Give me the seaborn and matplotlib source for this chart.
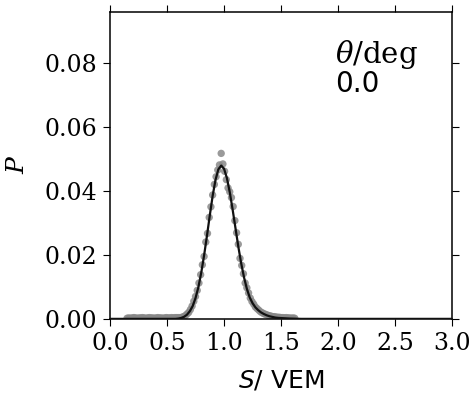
import seaborn as sns
import matplotlib.pyplot as plt
import pandas as pd

# Measured distribution (dots)
s_points = [0.150, 0.165, 0.180, 0.195, 0.210, 0.225, 0.240, 0.255, 0.270, 0.285,
            0.300, 0.315, 0.330, 0.345, 0.360, 0.375, 0.390, 0.405, 0.420, 0.435,
            0.450, 0.465, 0.480, 0.495, 0.510, 0.525, 0.540, 0.555, 0.570, 0.585,
            0.600, 0.615, 0.630, 0.645, 0.660, 0.675, 0.690, 0.705, 0.720, 0.735,
            0.750, 0.765, 0.780, 0.795, 0.810, 0.825, 0.840, 0.855, 0.870, 0.885,
            0.900, 0.915, 0.930, 0.945, 0.960, 0.975, 0.990, 1.005, 1.020, 1.035,
            1.050, 1.065, 1.080, 1.095, 1.110, 1.125, 1.140, 1.155, 1.170, 1.185,
            1.200, 1.215, 1.230, 1.245, 1.260, 1.275, 1.290, 1.305, 1.320, 1.335,
            1.350, 1.365, 1.380, 1.395, 1.410, 1.425, 1.440, 1.455, 1.470, 1.485,
            1.500, 1.515, 1.530, 1.545, 1.560, 1.575, 1.590, 1.605, 1.620]
p_points = [0.0003, 0.0004, 0.0003, 0.0004, 0.0005, 0.0004, 0.0003, 0.0004, 0.0004, 0.0005,
            0.0004, 0.0003, 0.0004, 0.0005, 0.0004, 0.0004, 0.0003, 0.0004, 0.0005, 0.0004,
            0.0004, 0.0003, 0.0004, 0.0005, 0.0004, 0.0004, 0.0005, 0.0004, 0.0005, 0.0005,
            0.0005, 0.0005, 0.0006, 0.0008, 0.0011, 0.0016, 0.0021, 0.0030, 0.0041, 0.0056,
            0.0071, 0.0090, 0.0113, 0.0139, 0.0170, 0.0196, 0.0241, 0.0268, 0.0318, 0.0351,
            0.0388, 0.0421, 0.0445, 0.0466, 0.0482, 0.0518, 0.0485, 0.0462, 0.0436, 0.0410,
            0.0398, 0.0380, 0.0352, 0.0308, 0.0270, 0.0234, 0.0190, 0.0168, 0.0142, 0.0113,
            0.0098, 0.0082, 0.0066, 0.0055, 0.0047, 0.0038, 0.0033, 0.0028, 0.0023, 0.0020,
            0.0017, 0.0015, 0.0013, 0.0011, 0.0010, 0.0008, 0.0008, 0.0007, 0.0006, 0.0006,
            0.0005, 0.0005, 0.0004, 0.0005, 0.0004, 0.0004, 0.0003, 0.0004, 0.0003]

# Fitted curve (black line)
s_fit = [0.0, 0.3, 0.5, 0.575, 0.6, 0.625, 0.65, 0.675, 0.7, 0.725, 0.75, 0.775, 0.8,
         0.825, 0.85, 0.875, 0.9, 0.925, 0.95, 0.975, 1.0, 1.025, 1.05, 1.075, 1.1,
         1.125, 1.15, 1.175, 1.2, 1.225, 1.25, 1.275, 1.3, 1.325, 1.35, 1.375, 1.4,
         1.425, 1.45, 1.475, 1.525, 1.575, 1.675, 2.0, 3.0]
p_fit = [0.0001, 0.0001, 0.0001, 0.0001, 0.0002, 0.0004, 0.00076, 0.0014, 0.0025, 0.0041,
         0.0066, 0.0100, 0.0145, 0.0199, 0.0260, 0.0324, 0.0385, 0.0435, 0.0468, 0.0480,
         0.0470, 0.0441, 0.0397, 0.0343, 0.0285, 0.0227, 0.0175, 0.0131, 0.0095, 0.0068,
         0.0050, 0.0037, 0.0028, 0.0021, 0.0016, 0.0012, 0.0009, 0.0007, 0.0005, 0.0004,
         0.0003, 0.0002, 0.0001, 0.0001, 0.0001]

x_ticks = [0.0, 0.5, 1.0, 1.5, 2.0, 2.5, 3.0]
y_ticks = [0.00, 0.02, 0.04, 0.06, 0.08]

points = pd.DataFrame({'S': s_points, 'P': p_points})
fit = pd.DataFrame({'S': s_fit, 'P': p_fit})

sns.set_style('ticks')
plt.rcParams['font.family'] = 'DejaVu Serif'
plt.rcParams['text.color'] = 'black'
plt.rcParams['axes.labelcolor'] = 'black'
plt.rcParams['mathtext.fontset'] = 'custom'
plt.rcParams['mathtext.rm'] = 'DejaVu Serif'
plt.rcParams['mathtext.it'] = 'DejaVu Serif:italic'
plt.rcParams['mathtext.sf'] = 'DejaVu Sans:italic'

fig = plt.figure(figsize=(4.74, 3.97), dpi=100)
ax = fig.add_axes([0.232, 0.196, 0.722, 0.774])

sns.scatterplot(data=points, x='S', y='P', color='#888888', s=28,
                edgecolor='none', alpha=0.85, ax=ax, zorder=2)
sns.lineplot(data=fit, x='S', y='P', color='#111111', linewidth=1.6,
             ax=ax, zorder=3)

ax.set_xlim(0, 3.0)
ax.set_ylim(0, 0.096)
ax.set_xticks(x_ticks)
ax.set_yticks(y_ticks)
ax.set_xticklabels([f'{v:.1f}' for v in x_ticks])
ax.set_yticklabels([f'{v:.2f}' for v in y_ticks])
ax.tick_params(direction='out', top=True, right=True, length=5, width=0.8,
               labelsize=17, pad=4, colors='black')
for sp in ax.spines.values():
    sp.set_visible(True)
    sp.set_linewidth(1.1)
    sp.set_color('black')

ax.set_xlabel(r'$\mathsf{S}$/ VEM', family='DejaVu Sans', fontsize=18, labelpad=10)
ax.set_ylabel('P', fontsize=18, fontstyle='italic', family='DejaVu Serif', labelpad=11)

ax.text(0.658, 0.862, r'$\theta$/deg', transform=ax.transAxes, fontsize=21,
        family='DejaVu Serif', ha='left', va='center')
ax.text(0.658, 0.765, '0.0', transform=ax.transAxes, fontsize=20,
        family='DejaVu Sans', ha='left', va='center')

fig.savefig('out.png', dpi=100)
